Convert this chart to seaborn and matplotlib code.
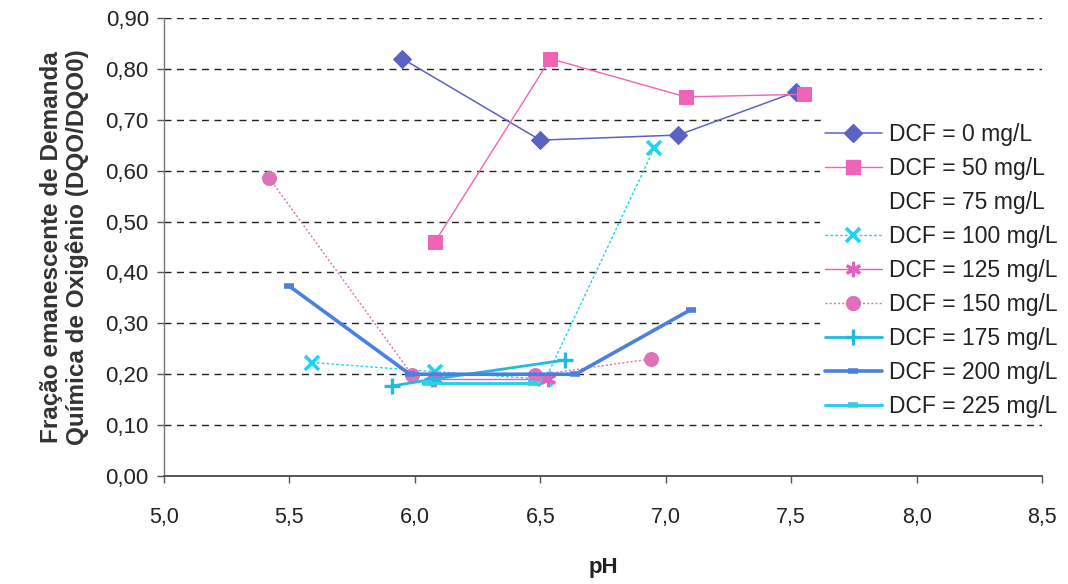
import matplotlib
matplotlib.use("Agg")
import matplotlib.pyplot as plt
from matplotlib.lines import Line2D
from matplotlib.ticker import FuncFormatter, MultipleLocator
import seaborn as sns
import pandas as pd

# pH and remaining COD fraction (DQO/DQO0) for each diclofenac dose
ph_0 = [5.95, 6.50, 7.05, 7.52]
dqo_0 = [0.82, 0.66, 0.67, 0.755]

ph_50 = [6.08, 6.54, 7.08, 7.55]
dqo_50 = [0.46, 0.82, 0.745, 0.75]

ph_75 = []
dqo_75 = []

ph_100 = [5.59, 6.08, 6.52, 6.955]
dqo_100 = [0.223, 0.205, 0.19, 0.645]

ph_125 = [6.08, 6.53]
dqo_125 = [0.19, 0.19]

ph_150 = [5.42, 5.99, 6.48, 6.94]
dqo_150 = [0.585, 0.198, 0.198, 0.23]

ph_175 = [5.91, 6.07, 6.60]
dqo_175 = [0.177, 0.19, 0.228]

ph_200 = [5.50, 5.98, 6.64, 7.10]
dqo_200 = [0.373, 0.20, 0.20, 0.327]

ph_225 = [6.05, 6.47]
dqo_225 = [0.183, 0.183]

labels = ["DCF = 0 mg/L", "DCF = 50 mg/L", "DCF = 75 mg/L", "DCF = 100 mg/L",
          "DCF = 125 mg/L", "DCF = 150 mg/L", "DCF = 175 mg/L",
          "DCF = 200 mg/L", "DCF = 225 mg/L"]

x_ticks = [5.0, 5.5, 6.0, 6.5, 7.0, 7.5, 8.0, 8.5]

series = [
    (ph_0, dqo_0, dict(color="#5B63C2", marker="D", markersize=9, linewidth=1.1, linestyle="-")),
    (ph_50, dqo_50, dict(color="#F064B8", marker="s", markersize=10, linewidth=1.0, linestyle="-")),
    (ph_75, dqo_75, None),
    (ph_100, dqo_100, dict(color="#22D3EE", marker="x", markersize=10, markeredgewidth=2.6,
                           linewidth=1.0, linestyle=(0, (2, 1.5)))),
    (ph_125, dqo_125, dict(color="#E060C0", marker=(6, 2, 0), markersize=11, markeredgewidth=2.2,
                           linewidth=1.0, linestyle="-")),
    (ph_150, dqo_150, dict(color="#E070B8", marker="o", markersize=10, linewidth=1.0,
                           linestyle=(0, (1.5, 1.5)))),
    (ph_175, dqo_175, dict(color="#22BBDD", marker="+", markersize=12, markeredgewidth=2.4,
                           linewidth=2.0, linestyle="-")),
    (ph_200, dqo_200, dict(color="#4A80E0", marker="_", markersize=7, markeredgewidth=4,
                           linewidth=2.6, linestyle="-")),
    (ph_225, dqo_225, dict(color="#33CCEE", marker="_", markersize=7, markeredgewidth=4,
                           linewidth=2.2, linestyle="-")),
]

sns.set_style("white")
plt.rcParams["font.family"] = ["Liberation Sans", "DejaVu Sans"]

fig = plt.figure(figsize=(10.68, 5.84), dpi=100)
ax = fig.add_axes([0.1536, 0.1849, 0.8221, 0.7843])

handles = []
for (xs, ys, style), lab in zip(series, labels):
    if style is None or len(xs) == 0:
        handles.append(Line2D([], [], linestyle="none", marker=None, label=lab))
        continue
    df = pd.DataFrame({"pH": xs, "DQO": ys})
    sns.lineplot(data=df, x="pH", y="DQO", ax=ax, sort=False, estimator=None,
                 markeredgecolor=style["color"], zorder=3, **style)
    h = Line2D([], [], label=lab, markeredgecolor=style["color"], **style)
    handles.append(h)

ax.set_xlim(5.0, 8.5)
ax.set_ylim(0.0, 0.9)
ax.set_xticks(x_ticks)
ax.yaxis.set_major_locator(MultipleLocator(0.1))
ax.xaxis.set_major_formatter(FuncFormatter(lambda v, p: f"{v:.1f}".replace(".", ",")))
ax.yaxis.set_major_formatter(FuncFormatter(lambda v, p: f"{v:.2f}".replace(".", ",")))

for yv in [0.1, 0.2, 0.3, 0.4, 0.5, 0.6, 0.7, 0.8, 0.9]:
    ax.axhline(yv, color="#222222", linewidth=1.0, linestyle=(0, (5, 4)), zorder=1)

for side in ["top", "right"]:
    ax.spines[side].set_visible(False)
ax.spines["left"].set_color("#777777")
ax.spines["left"].set_linewidth(1.0)
ax.spines["bottom"].set_color("#555555")
ax.spines["bottom"].set_linewidth(1.4)

ax.tick_params(axis="both", which="major", direction="out", length=5, width=1,
               color="#555555", labelcolor="#222222", pad=6)
ax.tick_params(axis="y", left=True, labelsize=16)
ax.tick_params(axis="x", bottom=True, labelsize=15.5, pad=17)

ax.set_xlabel("pH", fontsize=16, fontweight="bold", color="#222222", labelpad=21)
ax.set_ylabel("Fração emanescente de Demanda\nQuímica de Oxigênio (DQO/DQO0)",
              fontsize=17.5, fontweight="bold", color="#333333", labelpad=12,
              linespacing=1.1)

leg = fig.legend(handles=handles, loc="upper left", bbox_to_anchor=(0.768, 0.797),
                 frameon=True, fontsize=16.5, handlelength=2.5, handletextpad=0.3,
                 labelspacing=0.48, borderpad=0.2, borderaxespad=0)
leg.get_frame().set_facecolor("white")
leg.get_frame().set_edgecolor("none")
leg.get_frame().set_alpha(1.0)
for t in leg.get_texts():
    t.set_color("#222222")

fig.savefig("out.png", dpi=100, facecolor="white")
